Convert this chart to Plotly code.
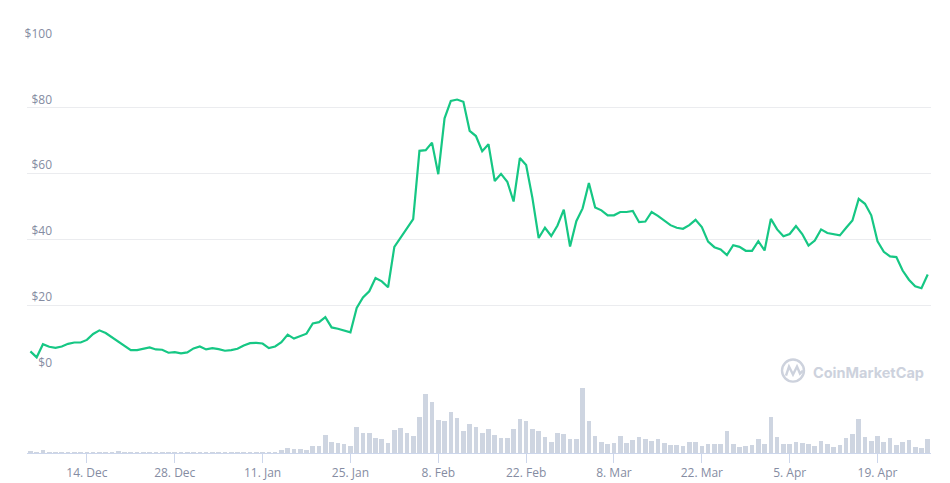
import pandas as pd
import plotly.graph_objects as go

# ---- data ----
start_date = "2020-12-05"
price_usd = [
    # Dec 5 - Dec 31
    5.9, 4.1, 8.1, 7.3, 7.0, 7.4, 8.2, 8.6, 8.6, 9.4, 11.2, 12.3, 11.5, 10.2, 8.8, 7.6, 6.3, 6.3, 6.6, 7.1,
    6.5, 6.4, 5.5, 5.7, 5.3, 5.6, 6.8,
    # Jan
    7.4, 6.5, 6.9, 6.6, 6.1, 6.3, 6.7, 7.7, 8.4, 8.5, 8.3, 6.9, 7.4, 8.7, 11.0, 9.8, 10.5, 11.3, 14.4, 14.8,
    16.3, 13.2, 12.8, 12.3, 11.7, 19.1, 22.3, 24.2, 28.2, 27.2, 25.4,
    # Feb
    37.7, 40.4, 43.3, 46.1, 66.9, 67.1, 69.4, 59.8, 76.8, 82.1, 82.5, 81.8, 73.0, 71.4, 66.8, 68.9, 57.7, 59.9,
    57.5, 51.5, 64.7, 62.6, 52.6, 40.4, 43.5, 41.0, 44.2, 49.0,
    # Mar
    37.8, 45.5, 49.4, 57.1, 49.7, 48.8, 47.3, 47.3, 48.3, 48.3, 48.6, 45.2, 45.4, 48.3, 47.1, 45.7, 44.3, 43.5,
    43.2, 44.3, 45.9, 43.7, 39.3, 37.6, 36.9, 35.2, 38.2, 37.7, 36.5, 36.5, 39.4,
    # Apr 1 - Apr 27
    36.6, 46.2, 43.0, 40.9, 41.6, 44.0, 41.6, 38.1, 39.6, 43.0, 41.9, 41.5, 41.2, 43.5, 45.7, 52.3, 50.8, 47.3,
    39.4, 36.2, 34.8, 34.6, 30.5, 27.7, 25.7, 25.1, 29.3,
]
volume_musd = [
    7, 4, 10, 4, 4, 4, 4, 4, 4, 4, 4, 4, 4, 4, 7, 4, 3, 1, 1, 3, 1, 1, 3, 3, 1, 3, 3, 3, 1, 3,
    1, 1, 1, 1, 3, 3, 3, 3, 1, 3, 10, 16, 13, 13, 10, 22, 22,
    55, 34, 31, 28, 22, 79, 61, 61, 46, 43, 31,
    70, 76, 61, 52, 109, 178, 154, 100, 97, 124, 106, 67, 88, 79,
    61, 73, 55, 46, 46, 73, 103, 97, 73, 67, 49, 34, 61, 58, 43, 43, 196, 97,
    52, 34, 28, 31, 52, 31, 40, 49, 43, 37, 43, 31, 25, 25, 22, 34, 34, 22,
    28, 28, 28, 67, 28, 19, 22, 25, 43, 28, 109, 49, 28, 28, 34, 31, 28, 22,
    37, 28, 19, 25, 46, 58, 103, 49, 37, 52, 34, 46, 25, 34, 40, 19, 16, 43,
]
x_tick_dates = ["2020-12-14", "2020-12-28", "2021-01-11", "2021-01-25", "2021-02-08",
                "2021-02-22", "2021-03-08", "2021-03-22", "2021-04-05", "2021-04-19"]
x_tick_labels = ["14. Dec", "28. Dec", "11. Jan", "25. Jan", "8. Feb",
                 "22. Feb", "8. Mar", "22. Mar", "5. Apr", "19. Apr"]
y_tick_values = [0, 20, 40, 60, 80, 100]
y_tick_labels = ["&#36;0", "&#36;20", "&#36;40", "&#36;60", "&#36;80", "&#36;100"]

dates = pd.date_range(start_date, periods=len(price_usd), freq="D")

LABEL = "#858ca2"
GRID = "#ebecef"
AXIS = "#ccd6eb"

# the captured picture comes out ~2% shorter than the page, so lay out on a taller page
VS = 0.98
W, H = 950, 493
L, R = 27, 19
T = round(41 / VS, 1)
B = round(H - 451.3 / VS, 1)

fig = go.Figure()
fig.add_trace(go.Bar(
    x=dates, y=volume_musd, xaxis="x", yaxis="y2",
    marker=dict(color="#ced5e1", line=dict(width=0)),
    width=0.74 * 86400000, showlegend=False, hoverinfo="skip",
))
fig.add_trace(go.Scatter(
    x=dates, y=price_usd, xaxis="x", yaxis="y", mode="lines",
    line=dict(color="#16c784", width=2.2), showlegend=False,
))

fig.update_layout(
    width=W, height=H,
    margin=dict(l=L, r=R, t=T, b=B),
    paper_bgcolor="white", plot_bgcolor="white",
    font=dict(family="Open Sans", size=12, color=LABEL),
    bargap=0,
    xaxis=dict(
        type="date", anchor="y2",
        range=["2020-12-04 11:00", "2021-04-27 12:30"],
        tickvals=x_tick_dates, ticktext=x_tick_labels,
        ticks="outside", ticklen=9, tickcolor=AXIS, tickwidth=1,
        showline=True, linecolor=AXIS, linewidth=1,
        showgrid=False, zeroline=False,
        tickfont=dict(size=12, color=LABEL),
    ),
    yaxis=dict(
        domain=[0.2, 1.0], range=[0, 100],
        tickvals=y_tick_values, ticktext=y_tick_labels,
        showgrid=True, gridcolor=GRID, gridwidth=1,
        zeroline=False, showline=False, ticks="",
        ticklabelposition="outside top", ticklabelstandoff=-26,
        tickfont=dict(size=12, color=LABEL),
    ),
    yaxis2=dict(
        domain=[0, 0.2], range=[0, 246],
        visible=False, showgrid=False, zeroline=False,
    ),
)

# CoinMarketCap watermark (positions given in reference pixels)
WM = "#cdd2dd"
def px_x(p):
    return (p - L) / (W - L - R)
def px_y(p):
    return (H - B - p / VS) / (H - T - B)

fig.add_shape(type="circle", xref="paper", yref="paper",
              x0=px_x(782), x1=px_x(804), y0=px_y(380), y1=px_y(358),
              line=dict(color=WM, width=2.4), layer="above")
pts = [(786, 374), (789, 365), (793, 373), (797, 365), (800, 372), (803, 369)]
path = "M " + " L ".join(f"{px_x(a):.5f},{px_y(b):.5f}" for a, b in pts)
fig.add_shape(type="path", xref="paper", yref="paper", path=path,
              line=dict(color=WM, width=2.4), layer="above")
fig.add_annotation(xref="paper", yref="paper", x=px_x(811), y=px_y(370.5),
                   xanchor="left", yanchor="middle", showarrow=False,
                   text="<b>CoinMarketCap</b>",
                   font=dict(family="Inter", size=14.5, color=WM))

fig.write_html(
    "out.html",
    config={"displayModeBar": False},
    post_script=(
        "document.documentElement.style.margin='0';"
        "document.body.style.margin='0';"
        "document.body.style.padding='0';"
        "document.documentElement.style.overflow='hidden';"
        "document.body.style.overflow='hidden';"
    ),
)
